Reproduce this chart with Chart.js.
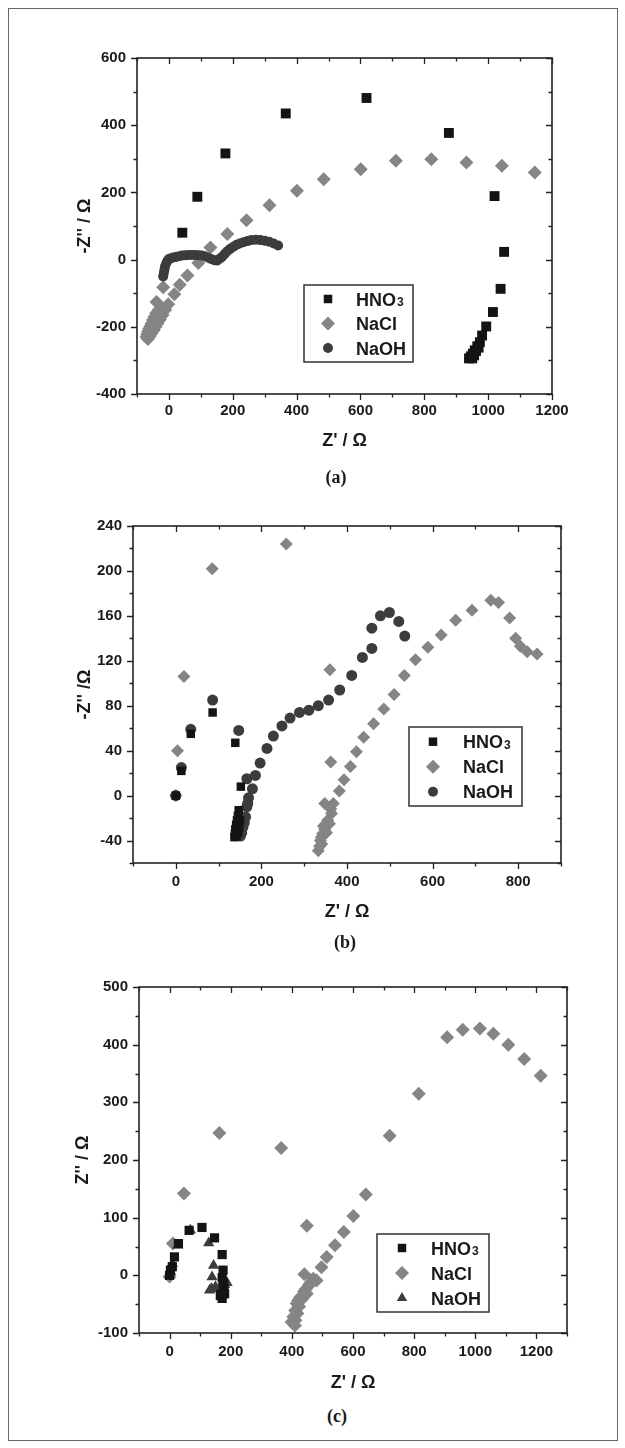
<!DOCTYPE html>
<html>
<head>
<meta charset="utf-8">
<script src="https://cdn.jsdelivr.net/npm/chart.js@4.4.1/dist/chart.umd.min.js"></script>
<style>
html, body { margin: 0; padding: 0; background: #fff; }
#page { position: relative; width: 625px; height: 1448px; overflow: hidden; }
#border { position: absolute; left: 8px; top: 8px; width: 608px; height: 1431px; border: 1px solid #666; }
canvas { position: absolute; left: 0; }
.cap { position: absolute; width: 200px; text-align: center; line-height: 20px;
       font: bold 18px "Liberation Serif", "Times New Roman", serif; color: #1a1a1a; }
</style>
</head>
<body>
<div id="page">
  <div id="border"></div>
  <canvas id="chartA" width="625" height="460" style="top:0px"></canvas>
  <canvas id="chartB" width="625" height="470" style="top:460px"></canvas>
  <canvas id="chartC" width="625" height="460" style="top:940px"></canvas>
  <div class="cap" style="left:236px;top:467px">(a)</div>
  <div class="cap" style="left:245px;top:932px">(b)</div>
  <div class="cap" style="left:237px;top:1406px">(c)</div>
</div>
<script>
// series names (legend)
const seriesNames = ['HNO3', 'NaCl', 'NaOH'];

// panel (a): [Z', -Z''] pairs
const aHNO3 = [[42,80],[89,187],[177,316],[366,435],[619,481],[877,377],[1020,189],[1050,23],[1039,-87],
  [1015,-156],[994,-199],[981,-226],[974,-246],[966,-258],[958,-270],[952,-280],[946,-288],[940,-294],
  [950,-294],[956,-285],[962,-272],[970,-262]];
const aNaCl = [[1146,259],[1043,279],[932,289],[822,299],[711,294],[601,269],[485,239],[401,205],[315,162],
  [243,117],[183,76],[130,36],[92,-10],[58,-47],[34,-75],[17,-103],[-2,-133],[-18,-82],[-39,-126],
  [-12,-150],[-20,-165],[-28,-178],[-36,-190],[-42,-200],[-48,-210],[-55,-220],[-60,-228],[-66,-236],
  [-70,-230],[-68,-222],[-65,-214],[-62,-206],[-58,-198],[-54,-190],[-50,-180],[-45,-170],[-40,-160],
  [-32,-150],[-25,-140]];
const aNaOH = [[-18,-50],[-16,-40],[-14,-30],[-12,-20],[-8,-10],[-4,-3],[0,2],[6,4],[14,6],[22,8],[32,10],
  [42,12],[52,13],[62,14],[72,14],[82,14],[92,13],[102,12],[112,10],[122,6],[132,2],[142,-2],[150,-3],
  [158,2],[166,8],[174,16],[182,24],[192,32],[202,38],[212,44],[222,48],[234,52],[246,55],[258,58],
  [272,59],[286,58],[300,56],[314,53],[328,48],[342,42]];

// panel (b)
const bHNO3 = [[0,0],[13,22],[35,55],[86,74],[139,47],[152,8],[147,-13],[145,-18],[143,-22],[141,-26],
  [139,-30],[138,-34],[137,-37],[142,-36],[146,-33],[148,-28],[150,-22]];
const bNaCl = [[0,0],[4,40],[19,106],[85,202],[258,224],[360,112],[362,30],[348,-7],[368,-7],[364,-16],
  [359,-25],[352,-33],[345,-27],[340,-37],[341,-43],[333,-49],[336,-45],[338,-40],[343,-34],[348,-30],
  [355,-22],[362,-12],[382,4],[393,14],[408,26],[422,39],[439,52],[462,64],[486,77],[510,90],[534,107],
  [560,121],[589,132],[620,143],[654,156],[692,165],[736,174],[754,172],[780,158],[794,140],[805,133],
  [821,128],[844,126]];
const bNaOH = [[0,0],[13,25],[35,59],[86,85],[147,58],[166,15],[179,6],[170,-2],[166,-10],[163,-19],
  [157,-28],[151,-36],[154,-33],[160,-24],[168,-7],[186,18],[197,29],[213,42],[228,53],[248,62],[267,69],
  [289,74],[311,76],[333,80],[357,85],[383,94],[411,107],[436,123],[458,131],[458,149],[478,160],
  [499,163],[521,155],[535,142]];

// panel (c)
const cHNO3 = [[0,0],[3,9],[9,15],[16,32],[29,55],[64,78],[106,83],[147,65],[172,36],[175,9],[172,-4],
  [176,-14],[178,-24],[170,-32],[166,-35],[172,-40],[180,-32]];
const cNaCl = [[0,-2],[11,55],[47,142],[163,247],[365,221],[449,86],[441,2],[459,-14],[470,-6],[449,-32],
  [440,-28],[427,-38],[420,-44],[416,-49],[411,-61],[405,-72],[399,-81],[410,-87],[412,-78],[418,-66],
  [424,-54],[432,-42],[445,-24],[455,-18],[481,-9],[497,14],[514,32],[541,52],[570,75],[601,103],
  [642,140],[720,242],[815,315],[908,413],[959,426],[1015,428],[1059,419],[1108,400],[1160,375],[1214,346]];
const cNaOH = [[0,0],[3,6],[9,20],[27,52],[68,78],[128,56],[144,17],[139,-3],[137,-23],[131,-26],
  [150,-20],[161,-23],[170,-20],[180,-16],[188,-13],[182,-10]];

// axis ranges / ticks
const aXTicks = { min: -100, max: 1200, major: 200, minor: 100 };
const aYTicks = { min: -400, max: 600, major: 200, minor: 100 };
const bXTicks = { min: -100, max: 900, major: 200, minor: 100 };
const bYTicks = { min: -60, max: 240, major: 40, minor: 20 };
const cXTicks = { min: -100, max: 1300, major: 200, minor: 100 };
const cYTicks = { min: -100, max: 500, major: 100, minor: 50 };

const BLACK = '#141414', GRAY = '#858585', DARK = '#3c3c3c';
const FONT = '"Liberation Sans", Arial, sans-serif';

function xy(pairs) {
  return pairs.map(p => ({ x: p[0], y: p[1] }));
}

function drawMarker(ctx, style, x, y, r, color) {
  ctx.fillStyle = color;
  ctx.beginPath();
  if (style === 'rect') {
    const s = Math.SQRT1_2 * r;
    ctx.rect(x - s, y - s, 2 * s, 2 * s);
  } else if (style === 'rectRot') {
    ctx.moveTo(x - r, y); ctx.lineTo(x, y - r); ctx.lineTo(x + r, y); ctx.lineTo(x, y + r);
  } else if (style === 'triangle') {
    ctx.moveTo(x, y - r);
    ctx.lineTo(x + r * Math.sin(2 * Math.PI / 3), y - r * Math.cos(2 * Math.PI / 3));
    ctx.lineTo(x + r * Math.sin(4 * Math.PI / 3), y - r * Math.cos(4 * Math.PI / 3));
  } else {
    ctx.arc(x, y, r, 0, Math.PI * 2);
  }
  ctx.closePath();
  ctx.fill();
}

// frame with Origin-style ticks: outward on left/bottom, inward on top/right
const framePlugin = {
  id: 'frame',
  afterDraw(chart) {
    const { ctx, chartArea: a } = chart;
    const sx = chart.scales.x, sy = chart.scales.y;
    const t = chart.options.tickSpec;
    ctx.save();
    ctx.strokeStyle = '#222';
    ctx.lineWidth = 1.6;
    ctx.strokeRect(a.left, a.top, a.right - a.left, a.bottom - a.top);
    ctx.lineWidth = 1.3;
    ctx.beginPath();
    const nx = Math.round((t.x.max - t.x.min) / t.x.minor);
    for (let i = 0; i <= nx; i++) {
      const v = t.x.min + i * t.x.minor;
      const len = v % t.x.major === 0 ? 6 : 3.5;
      const px = Math.round(sx.getPixelForValue(v)) + 0.5;
      ctx.moveTo(px, a.bottom); ctx.lineTo(px, a.bottom + len);
      ctx.moveTo(px, a.top); ctx.lineTo(px, a.top + len);
    }
    const ny = Math.round((t.y.max - t.y.min) / t.y.minor);
    for (let i = 0; i <= ny; i++) {
      const v = t.y.min + i * t.y.minor;
      const len = v % t.y.major === 0 ? 6 : 3.5;
      const py = Math.round(sy.getPixelForValue(v)) + 0.5;
      ctx.moveTo(a.left, py); ctx.lineTo(a.left - len, py);
      ctx.moveTo(a.right, py); ctx.lineTo(a.right - len, py);
    }
    ctx.stroke();

    // legend box
    const lg = chart.options.boxLegend;
    ctx.fillStyle = '#fff';
    ctx.fillRect(lg.left, lg.top, lg.width, lg.height);
    ctx.lineWidth = 1.5;
    ctx.strokeStyle = '#333';
    ctx.strokeRect(lg.left, lg.top, lg.width, lg.height);
    chart.data.datasets.forEach((ds, i) => {
      const ry = lg.top + lg.firstRow + i * lg.rowGap;
      drawMarker(ctx, ds.pointStyle, lg.left + lg.markerX, ry, lg.markerR[i], ds.pointBackgroundColor);
      ctx.fillStyle = '#1a1a1a';
      ctx.textBaseline = 'alphabetic';
      ctx.textAlign = 'left';
      ctx.font = 'bold 18px ' + FONT;
      const m = ds.label.match(/^(.*?)(\d*)$/);
      const tx = lg.left + lg.textX;
      ctx.fillText(m[1], tx, ry + 6.5);
      if (m[2]) {
        const w = ctx.measureText(m[1]).width;
        ctx.font = 'bold 12px ' + FONT;
        ctx.fillText(m[2], tx + w + 1, ry + 7);
      }
    });
    ctx.restore();
  }
};

function makePanel(id, spec) {
  const canvas = document.getElementById(id);
  const H = canvas.height;
  const tickFont = { family: FONT, weight: 'bold', size: 15 };
  const titleFont = { family: FONT, weight: 'bold', size: 18 };
  const fmt = major => v => (Math.abs(v % major) < 1e-9 ? String(v) : '');
  return new Chart(canvas.getContext('2d'), {
    type: 'scatter',
    data: {
      datasets: spec.series.map((s, i) => ({
        label: seriesNames[i],
        data: xy(s.data),
        pointStyle: s.style,
        pointRadius: s.r,
        pointBackgroundColor: s.color,
        pointBorderColor: s.color,
        pointBorderWidth: 0,
        showLine: false,
        order: s.order
      }))
    },
    options: {
      responsive: false,
      animation: false,
      events: [],
      tickSpec: { x: spec.xt, y: spec.yt },
      boxLegend: spec.legend,
      layout: { padding: { left: 0, top: spec.area.top, right: 625 - spec.area.right, bottom: 0 } },
      plugins: { legend: { display: false }, tooltip: { enabled: false } },
      scales: {
        x: {
          type: 'linear', position: 'bottom',
          min: spec.xt.min, max: spec.xt.max,
          grid: { display: false, drawTicks: false, tickLength: 0 },
          border: { display: false },
          ticks: { stepSize: spec.xt.minor, autoSkip: false, maxRotation: 0, padding: spec.xPad,
                   font: tickFont, color: '#1a1a1a', callback: fmt(spec.xt.major) },
          title: { display: true, text: spec.xTitle, font: titleFont, color: '#1a1a1a',
                   padding: { top: 0, bottom: spec.xTitlePad } },
          afterFit: sc => { sc.height = H - spec.area.bottom; }
        },
        y: {
          type: 'linear', position: 'left',
          min: spec.yt.min, max: spec.yt.max,
          grid: { display: false, drawTicks: false, tickLength: 0 },
          border: { display: false },
          ticks: { stepSize: spec.yt.minor, autoSkip: false, padding: 11,
                   font: tickFont, color: '#1a1a1a', callback: fmt(spec.yt.major) },
          title: { display: true, text: spec.yTitle, font: titleFont, color: '#1a1a1a',
                   padding: { top: spec.yTitlePad, bottom: 0 } },
          afterFit: sc => { sc.width = spec.area.left; }
        }
      }
    },
    plugins: [framePlugin]
  });
}

// legend "top" values are relative to each canvas
makePanel('chartA', {
  area: { left: 137, right: 552, top: 58, bottom: 394 },
  xt: aXTicks, yt: aYTicks, xPad: 8,
  xTitle: "Z' / Ω", yTitle: "-Z'' / Ω", xTitlePad: 8, yTitlePad: 74,
  series: [
    { data: aHNO3, style: 'rect', r: 7, color: BLACK, order: 1 },
    { data: aNaCl, style: 'rectRot', r: 7, color: GRAY, order: 3 },
    { data: aNaOH, style: 'circle', r: 5, color: DARK, order: 2 }
  ],
  legend: { left: 304, top: 285, width: 109, height: 77, firstRow: 14, rowGap: 24.5,
            markerX: 24, textX: 52, markerR: [6, 7, 5] }
});

makePanel('chartB', {
  area: { left: 133, right: 561, top: 66, bottom: 403 },
  xt: bXTicks, yt: bYTicks, xPad: 10,
  xTitle: "Z' / Ω", yTitle: "-Z'' /Ω", xTitlePad: 7, yTitlePad: 74,
  series: [
    { data: bHNO3, style: 'rect', r: 6, color: BLACK, order: 1 },
    { data: bNaCl, style: 'rectRot', r: 6.5, color: GRAY, order: 3 },
    { data: bNaOH, style: 'circle', r: 5.5, color: DARK, order: 2 }
  ],
  legend: { left: 409, top: 267, width: 113, height: 79, firstRow: 14.7, rowGap: 25,
            markerX: 24, textX: 54, markerR: [6, 7, 5] }
});

makePanel('chartC', {
  area: { left: 139, right: 567, top: 47, bottom: 393 },
  xt: cXTicks, yt: cYTicks, xPad: 10,
  xTitle: "Z' / Ω", yTitle: "Z'' / Ω", xTitlePad: 6, yTitlePad: 72,
  series: [
    { data: cHNO3, style: 'rect', r: 6.5, color: BLACK, order: 1 },
    { data: cNaCl, style: 'rectRot', r: 7, color: GRAY, order: 3 },
    { data: cNaOH, style: 'triangle', r: 6.5, color: DARK, order: 2 }
  ],
  legend: { left: 377, top: 294, width: 112, height: 78, firstRow: 14, rowGap: 25,
            markerX: 25, textX: 54, markerR: [6, 7, 6] }
});
</script>
</body>
</html>
